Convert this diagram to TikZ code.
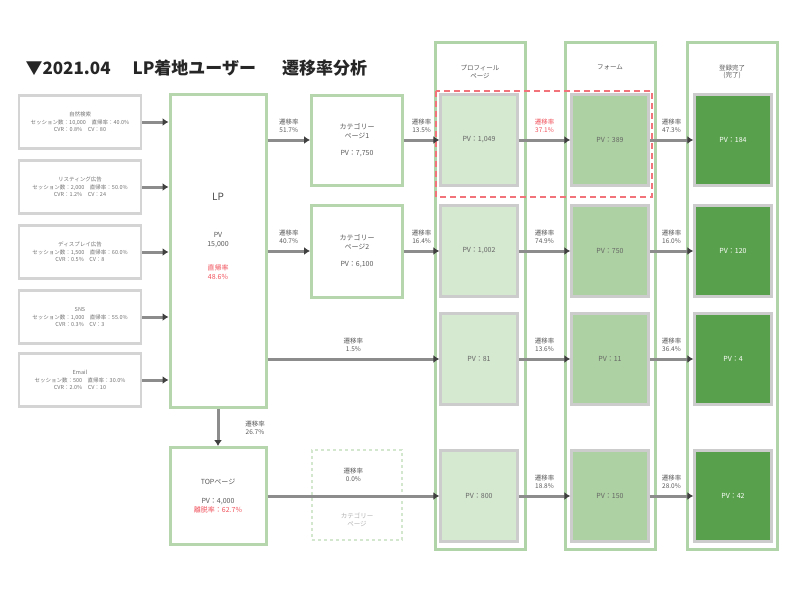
\documentclass[tikz,border=0pt]{standalone}
\usepackage{fontspec}
\setmainfont{Noto Sans CJK JP}
\usetikzlibrary{arrows.meta}
\definecolor{gline}{HTML}{9CC992}
\definecolor{gbox}{HTML}{B6D7AE}
\definecolor{f1}{HTML}{D5E8D0}
\definecolor{f2}{HTML}{ADD1A2}
\definecolor{f3}{HTML}{58A04B}
\definecolor{redt}{HTML}{F0505A}
\tikzset{
 src/.style={draw=black!17,line width=2.5pt,minimum width=122pt,minimum height=53pt,align=center,font=\fontsize{5.5}{7.5}\selectfont,text=black!55},
 gbx/.style={draw=gbox,line width=3pt,align=center,font=\fontsize{7}{9}\selectfont,text=black!65},
 outer/.style={draw=gline!80,line width=3pt,minimum width=90pt,minimum height=507pt},
 inner/.style={draw=black!20,line width=2.5pt,minimum width=77pt,minimum height=91pt,font=\fontsize{7}{9}\selectfont,text=black!60},
 arr/.style={draw=black!45,line width=3pt,-{Latex[length=6pt,width=8pt,black!75]}},
 lab/.style={font=\fontsize{6.5}{7.5}\selectfont,align=center,text=black!65}
}
\begin{document}
\begin{tikzpicture}[x=1pt,y=-1pt]
\useasboundingbox (0,0) rectangle (800,600);
\node[anchor=west,font=\fontsize{17}{19}\selectfont\bfseries,text=black!85] (title) at (22,68) {▼2021.04\hspace{22pt}LP着地ユーザー\hspace{26pt}遷移率分析};
% sources
\node[src] (s1) at (80,122) {自然検索\\セッション数：10,000　直帰率：40.0\%\\CVR：0.8\%　CV：80};
\node[src] (s2) at (80,187) {リスティング広告\\セッション数：2,000　直帰率：50.0\%\\CVR：1.2\%　CV：24};
\node[src] (s3) at (80,252) {ディスプレイ広告\\セッション数：1,500　直帰率：60.0\%\\CVR：0.5\%　CV：8};
\node[src] (s4) at (80,317) {SNS\\セッション数：1,000　直帰率：55.0\%\\CVR：0.3\%　CV：3};
\node[src] (s5) at (80,380) {Email\\セッション数：500　直帰率：30.0\%\\CVR：2.0\%　CV：10};
% LP
\node[gbx,minimum width=96pt,minimum height=313pt] (lp) at (218,251) {};
\node[font=\fontsize{10}{12}\selectfont,text=black!70] (lpt) at (218,197) {LP};
\node[lab,font=\fontsize{7}{9}\selectfont] (lppv) at (218,240) {PV\\15,000};
\node[lab,text=redt,font=\fontsize{7}{9}\selectfont] (lpr) at (218,272) {直帰率\\48.6\%};
\foreach \i in {1,...,5}{\draw[arr] (s\i.east) -- (s\i.east -| lp.west);}
% category pages
\node[gbx,minimum width=91pt,minimum height=90pt] (cat1) at (357,140) {カテゴリー\\ページ1\\[8pt]PV：7,750};
\node[gbx,minimum width=91pt,minimum height=92pt] (cat2) at (357,251) {カテゴリー\\ページ2\\[8pt]PV：6,100};
\node[draw=gbox!60,dashed,line width=1.5pt,minimum width=90pt,minimum height=90pt] (cat3) at (357,495) {};
\node[lab,text=black!30] (cat3t) at (357,520) {カテゴリー\\ページ};
% top
\node[gbx,minimum width=96pt,minimum height=97pt] (top) at (218,496) {TOPページ\\[10pt]PV：4,000\\\textcolor{redt}{離脱率：62.7\%}};
% columns
\node[outer] (o1) at (480,296) {};
\node[outer] (o2) at (610,296) {};
\node[outer] (o3) at (732,296) {};
\node[lab] (h1) at (480,72) {プロフィール\\ページ};
\node[lab] (h2) at (610,67) {フォーム};
\node[lab] (h3) at (732,72) {登録完了\\(完了)};
\foreach \r/\y in {1/140,2/251,3/359,4/496}{
 \node[inner,fill=f1] (a\r) at (479,\y) {};
 \node[inner,fill=f2] (b\r) at (610,\y) {};
 \node[inner,fill=f3,text=white] (c\r) at (733,\y) {};
}
\tikzset{pv/.style={font=\fontsize{7}{9}\selectfont,text=black!60}}
\node[pv] at (a1) {PV：1,049};
\node[pv] at (a2) {PV：1,002};
\node[pv] at (a3) {PV：81};
\node[pv] at (a4) {PV：800};
\node[pv] at (b1) {PV：389};
\node[pv] at (b2) {PV：750};
\node[pv] at (b3) {PV：11};
\node[pv] at (b4) {PV：150};
\node[pv,text=white] at (c1) {PV：184};
\node[pv,text=white] at (c2) {PV：120};
\node[pv,text=white] at (c3) {PV：4};
\node[pv,text=white] at (c4) {PV：42};
\draw[redt!80,line width=2.5pt,dash pattern=on 6pt off 4pt] (436,91) rectangle (652,197);
% connectors
\draw[arr] (lp.east |- cat1.west) -- node[lab,above=3pt]{遷移率\\51.7\%} (cat1.west);
\draw[arr] (lp.east |- cat2.west) -- node[lab,above=3pt]{遷移率\\40.7\%} (cat2.west);
\draw[arr] (lp.east |- a3.west) -- node[lab,above=3pt]{遷移率\\1.5\%} (a3.west);
\draw[arr] (top.east) -- node[lab,above=10pt]{遷移率\\0.0\%} (a4.west);
\draw[arr] (lp.south) -- (top.north);
\node[lab] (ltop) at (255,428) {遷移率\\26.7\%};
\draw[arr] (cat1.east) -- node[lab,above=3pt]{遷移率\\13.5\%} (a1.west);
\draw[arr] (cat2.east) -- node[lab,above=3pt]{遷移率\\16.4\%} (a2.west);
\draw[arr] (a1.east) -- node[lab,above=3pt,text=redt]{遷移率\\37.1\%} (b1.west);
\draw[arr] (a2.east) -- node[lab,above=3pt]{遷移率\\74.9\%} (b2.west);
\draw[arr] (a3.east) -- node[lab,above=3pt]{遷移率\\13.6\%} (b3.west);
\draw[arr] (a4.east) -- node[lab,above=3pt]{遷移率\\18.8\%} (b4.west);
\draw[arr] (b1.east) -- node[lab,above=3pt]{遷移率\\47.3\%} (c1.west);
\draw[arr] (b2.east) -- node[lab,above=3pt]{遷移率\\16.0\%} (c2.west);
\draw[arr] (b3.east) -- node[lab,above=3pt]{遷移率\\36.4\%} (c3.west);
\draw[arr] (b4.east) -- node[lab,above=3pt]{遷移率\\28.0\%} (c4.west);
\end{tikzpicture}
\end{document}
